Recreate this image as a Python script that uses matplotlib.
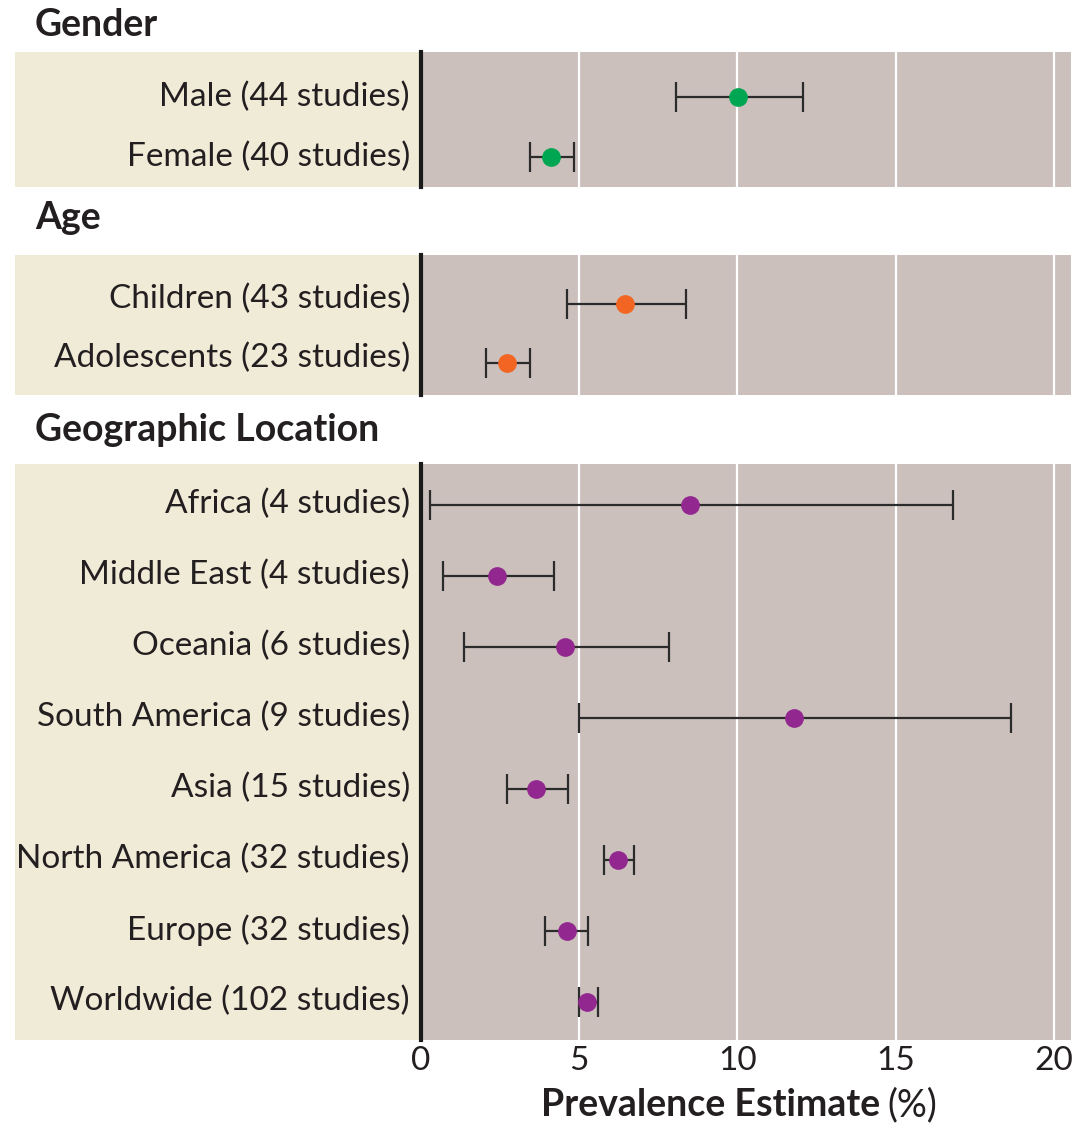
import matplotlib.pyplot as plt
from matplotlib.patches import Rectangle
from matplotlib.transforms import ScaledTranslation

# prevalence estimates (%) with lower / upper limits
gender_labels = ['Male (44 studies)', 'Female (40 studies)']
gender_est = [10.03, 4.12]
gender_lo = [8.07, 3.46]
gender_hi = [12.08, 4.82]

age_labels = ['Children (43 studies)', 'Adolescents (23 studies)']
age_est = [6.45, 2.72]
age_lo = [4.60, 2.04]
age_hi = [8.36, 3.45]

geo_labels = ['Africa (4 studies)', 'Middle East (4 studies)', 'Oceania (6 studies)',
              'South America (9 studies)', 'Asia (15 studies)', 'North America (32 studies)',
              'Europe (32 studies)', 'Worldwide (102 studies)']
geo_est = [8.49, 2.41, 4.56, 11.79, 3.64, 6.21, 4.60, 5.25]
geo_lo = [0.27, 0.70, 1.35, 4.98, 2.71, 5.77, 3.92, 4.99]
geo_hi = [16.80, 4.19, 7.83, 18.65, 4.65, 6.72, 5.29, 5.58]

xticks = [0, 5, 10, 15, 20]

W, H = 1072, 1124
CREAM = '#efebd7'
PLOT_BG = '#cbc0bc'
TEXT = '#231f20'
FONT = ['Lato', 'DejaVu Sans']

fig = plt.figure(figsize=(W / 100, H / 100), dpi=100)

# (title, labels, est, lo, hi, colour, top px, bottom px, title y px, ylim, label lift px)
panels = [
    ('Gender', gender_labels, gender_est, gender_lo, gender_hi, '#00a651',
     52, 187, 25, (1.5, -0.75), 3),
    ('Age', age_labels, age_est, age_lo, age_hi, '#f26522',
     255, 395, 218, (1.54, -0.83), 8),
    ('Geographic Location', geo_labels, geo_est, geo_lo, geo_hi, '#92278f',
     464, 1040, 430, (7.54, -0.58), 4),
]

x0, x1, lab_x0 = 421, 1071, 15
for i, (title, labels, est, lo, hi, col, top, bot, ty, ylim, lift) in enumerate(panels):
    ax = fig.add_axes([x0 / W, 1 - bot / H, (x1 - x0) / W, (bot - top) / H])
    ax.set_facecolor(PLOT_BG)
    fig.patches.append(Rectangle((lab_x0 / W, 1 - bot / H), (x0 - lab_x0) / W,
                                 (bot - top) / H, transform=fig.transFigure,
                                 facecolor=CREAM, edgecolor='none', zorder=-1))
    ypos = list(range(len(labels)))
    ax.set_xlim(0, 20.54)
    ax.set_ylim(*ylim)
    for x in xticks[1:]:
        ax.axvline(x, color='white', lw=1.6, zorder=1)
    xerr = [[e - l for e, l in zip(est, lo)], [h - e for e, h in zip(est, hi)]]
    ax.errorbar(est, ypos, xerr=xerr, fmt='none', ecolor='#2b2b2b',
                elinewidth=1.6, capsize=10.5, capthick=1.6, zorder=2)
    ax.plot(est, ypos, 'o', color=col, ms=13.5, mec='none', zorder=3)

    for s in ['top', 'right', 'bottom']:
        ax.spines[s].set_visible(False)
    ax.spines['left'].set_linewidth(3)
    ax.spines['left'].set_color('#1a1a1a')

    ax.set_yticks(ypos, labels)
    ax.tick_params(axis='y', length=0, pad=8, labelsize=24, labelcolor=TEXT)
    shift = ScaledTranslation(0, lift / 100, fig.dpi_scale_trans)
    for t in ax.get_yticklabels():
        t.set_fontfamily(FONT)
        t.set_transform(t.get_transform() + shift)

    if i == len(panels) - 1:
        ax.set_xticks(xticks, [str(x) for x in xticks])
        ax.tick_params(axis='x', length=0, pad=4, labelsize=24, labelcolor=TEXT)
        for t in ax.get_xticklabels():
            t.set_fontfamily(FONT)
    else:
        ax.set_xticks([])

    fig.text(35 / W, 1 - ty / H, title, fontsize=27, fontweight='bold',
             family=FONT, color=TEXT, va='center', ha='left')

# axis title: bold words, regular unit
fig.text(880 / W, 1 - 1105 / H, 'Prevalence Estimate', fontsize=27, fontweight='bold',
         family=FONT, color=TEXT, ha='right', va='center')
fig.text(887 / W, 1 - 1105 / H, '(%)', fontsize=27,
         family=FONT, color=TEXT, ha='left', va='center')

fig.savefig('out.png', dpi=100, facecolor='white')
